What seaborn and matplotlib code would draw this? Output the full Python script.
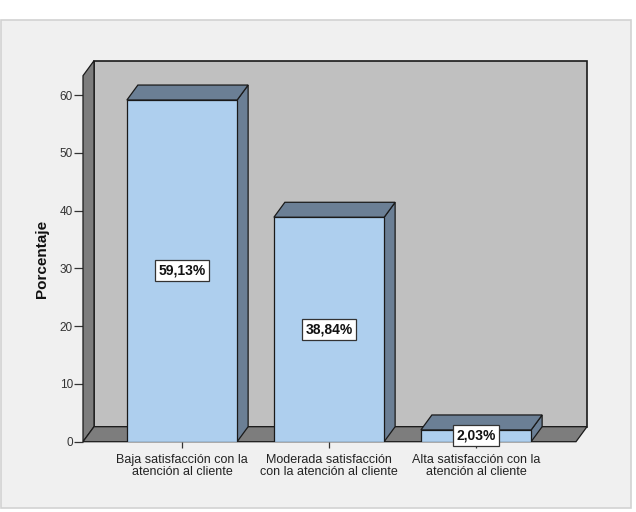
import matplotlib
matplotlib.use("Agg")
import matplotlib.pyplot as plt
from matplotlib.patches import Polygon, Rectangle
import seaborn as sns
import pandas as pd

# ---- data ----
categorias = [
    "Baja satisfacción con la atención al cliente",
    "Moderada satisfacción con la atención al cliente",
    "Alta satisfacción con la atención al cliente",
]
etiquetas_x = [
    "Baja satisfacción con la\natención al cliente",
    "Moderada satisfacción\ncon la atención al cliente",
    "Alta satisfacción con la\natención al cliente",
]
porcentajes = [59.13, 38.84, 2.03]
etiquetas_valor = ["59,13%", "38,84%", "2,03%"]
yticks = [0, 10, 20, 30, 40, 50, 60]

df = pd.DataFrame({"cat": categorias, "pct": porcentajes})

# ---- style ----
plt.rcParams["font.family"] = ["Liberation Sans", "DejaVu Sans"]
W, H = 636, 512
fig = plt.figure(figsize=(W / 100, H / 100), dpi=100, facecolor="white")

# outer light panel
fig.patches.append(Rectangle((0.5 / W, 1 - 508 / H), 630 / W, (508 - 20) / H,
                             transform=fig.transFigure, facecolor="#f0f0f0",
                             edgecolor="#d2d2d2", linewidth=1.2, zorder=-10))

# axes geometry (pixels)
px_left, px_right = 83, 587
px_top, px_bottom = 60.7, 441.7
ax = fig.add_axes([px_left / W, 1 - px_bottom / H,
                   (px_right - px_left) / W, (px_bottom - px_top) / H])
ax.set_facecolor("none")
ax.set_zorder(5)

xscale = 147.0          # px per category
yscale = 5.778          # px per percent unit
x0 = (px_left - 182) / xscale
x1 = (px_right - 182) / xscale
ymax = (px_bottom - px_top) / yscale
ddx = 11 / xscale
ddy = 15 / yscale

front_col = "#aecfee"
face_col = "#6b7f95"
wall_col = "#c0c0c0"
dark_col = "#7d7d7d"

sns.barplot(data=df, x="cat", y="pct", width=0.75, color=front_col, saturation=1,
            edgecolor="#1a1a1a", linewidth=0.9, ax=ax, zorder=5, errorbar=None)
bars = list(ax.patches)

# back wall
ax.add_patch(Rectangle((x0 + ddx, ddy), x1 - (x0 + ddx), ymax - ddy,
                       facecolor=wall_col, edgecolor="#1a1a1a", linewidth=1.2,
                       zorder=1, clip_on=False))
# left wall
ax.add_patch(Polygon([(x0, 0), (x0 + ddx, ddy), (x0 + ddx, ymax), (x0, ymax - ddy)],
                     closed=True, facecolor=dark_col, edgecolor="#1a1a1a",
                     linewidth=0.9, zorder=2, clip_on=False))
# floor
ax.add_patch(Polygon([(x0, 0), (x1 - ddx, 0), (x1, ddy), (x0 + ddx, ddy)],
                     closed=True, facecolor=dark_col, edgecolor="#1a1a1a",
                     linewidth=0.9, zorder=2, clip_on=False))

# 3D faces of bars
for b in bars:
    xl = b.get_x()
    xr = xl + b.get_width()
    h = b.get_height()
    ax.add_patch(Polygon([(xr, 0), (xr + ddx, ddy), (xr + ddx, h + ddy), (xr, h)],
                         closed=True, facecolor=face_col, edgecolor="#1a1a1a",
                         linewidth=0.9, zorder=3, clip_on=False))
    ax.add_patch(Polygon([(xl, h), (xr, h), (xr + ddx, h + ddy), (xl + ddx, h + ddy)],
                         closed=True, facecolor=face_col, edgecolor="#1a1a1a",
                         linewidth=0.9, zorder=3, clip_on=False))

# value labels
for b, lab in zip(bars, etiquetas_valor):
    cx = b.get_x() + b.get_width() / 2
    ax.text(cx, b.get_height() / 2, lab, ha="center", va="center", fontsize=10,
            fontweight="bold", color="#111111", zorder=8,
            bbox=dict(boxstyle="square,pad=0.25", facecolor="white",
                      edgecolor="#333333", linewidth=0.9))

ax.set_xlim(x0, x1)
ax.set_ylim(0, ymax)
for s in ax.spines.values():
    s.set_visible(False)

ax.set_yticks(yticks)
ax.set_yticklabels([str(v) for v in yticks])
ax.set_xticks(range(len(categorias)))
ax.set_xticklabels(etiquetas_x, fontsize=9, color="#222222", linespacing=1.0)
ax.tick_params(axis="y", direction="out", length=6.5, width=0.9, pad=0.8,
               labelsize=8.5, labelcolor="#333333", color="#333333")
ax.tick_params(axis="x", direction="out", length=4.5, width=0.9, pad=4,
               color="#333333")
ax.set_xlabel("")
ax.set_ylabel("Porcentaje", fontsize=11, fontweight="bold", color="#111111")
ax.yaxis.set_label_coords((49 - px_left) / (px_right - px_left),
                          (px_bottom - 258.5) / (px_bottom - px_top))

fig.savefig("out.png", dpi=100, facecolor="white")
